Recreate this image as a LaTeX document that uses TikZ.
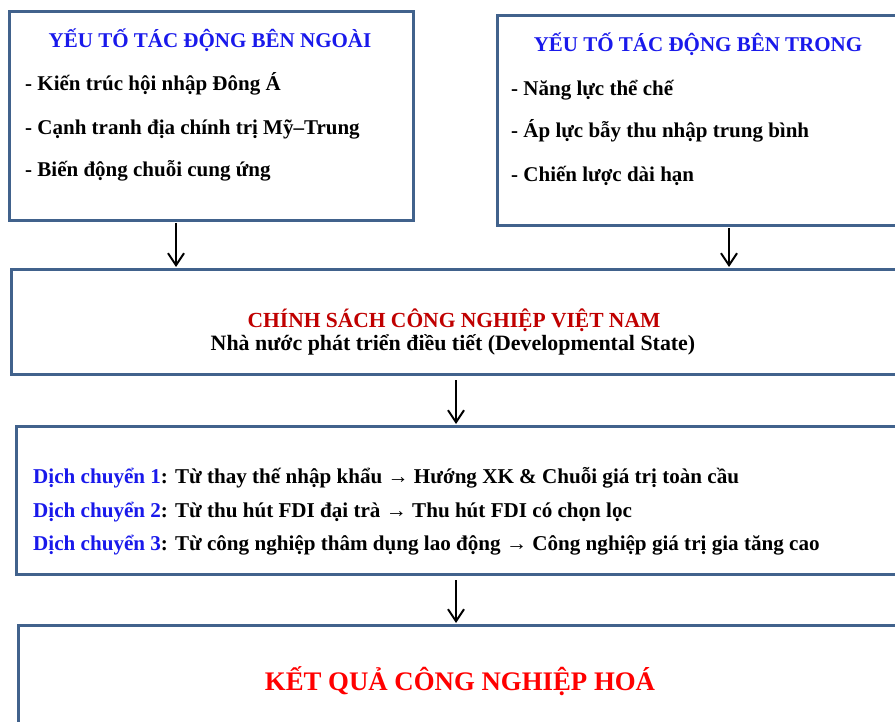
\documentclass[tikz,border=0pt]{standalone}
\usepackage{fontspec}
\setmainfont{Liberation Serif}
\usetikzlibrary{arrows.meta}
\definecolor{boxblue}{RGB}{65,98,140}
\definecolor{headblue}{RGB}{25,25,235}
\definecolor{darkred}{RGB}{192,0,0}
\tikzset{
  frame/.style={draw=boxblue, line width=3pt, fill=white, anchor=north west, inner sep=0pt},
  flow/.style={-{Straight Barb[length=12pt,width=16pt]}, line width=2pt},
  head/.style={anchor=base, inner sep=0pt, text=headblue, font=\bfseries\fontsize{21}{25}\selectfont},
  item/.style={anchor=base west, inner sep=0pt, font=\bfseries\fontsize{21}{25}\selectfont},
  shiftline/.style={anchor=base west, inner sep=0pt, font=\bfseries\fontsize{21.1}{25}\selectfont},
}
\begin{document}
\begin{tikzpicture}[x=1pt,y=-1pt]
\clip (0,0) rectangle (895,722);
\fill[white] (0,0) rectangle (895,722);

% khung
\node[frame, minimum width=404pt, minimum height=209pt] (outer) at (8,10) {};
\node[frame, minimum width=420pt, minimum height=210pt] (inner) at (496,14) {};
\node[frame, minimum width=900pt, minimum height=105pt] (policy) at (10,268) {};
\node[frame, minimum width=900pt, minimum height=148pt] (shifts) at (15,425) {};
\node[frame, minimum width=900pt, minimum height=120pt] (result) at (17,624) {};

% yeu to ben ngoai
\node[head] (outerhead) at (210,48) {YẾU TỐ TÁC ĐỘNG BÊN NGOÀI};
\node[item] (o1) at (25,91) {- Kiến trúc hội nhập Đông Á};
\node[item] (o2) at (25,135) {- Cạnh tranh địa chính trị Mỹ–Trung};
\node[item] (o3) at (25,177) {- Biến động chuỗi cung ứng};

% yeu to ben trong
\node[head] (innerhead) at (698,52) {YẾU TỐ TÁC ĐỘNG BÊN TRONG};
\node[item] (i1) at (511,96) {- Năng lực thể chế};
\node[item] (i2) at (511,138) {- Áp lực bẫy thu nhập trung bình};
\node[item] (i3) at (511,182) {- Chiến lược dài hạn};

% chinh sach
\node[anchor=base, inner sep=0pt, text=darkred, font=\bfseries\fontsize{21.5}{25}\selectfont] (policyhead) at (454,327) {CHÍNH SÁCH CÔNG NGHIỆP VIỆT NAM};
\node[anchor=base, inner sep=0pt, font=\bfseries\fontsize{21.9}{25}\selectfont] (policysub) at (453,351) {Nhà nước phát triển điều tiết (Developmental State)};

% dich chuyen
\node[shiftline] (s1) at (33,483) {\textcolor{headblue}{Dịch chuyển 1}: Từ thay thế nhập khẩu → Hướng XK \& Chuỗi giá trị toàn cầu};
\node[shiftline] (s2) at (33,517) {\textcolor{headblue}{Dịch chuyển 2}: Từ thu hút FDI đại trà → Thu hút FDI có chọn lọc};
\node[shiftline] (s3) at (33,550) {\textcolor{headblue}{Dịch chuyển 3}: Từ công nghiệp thâm dụng lao động → Công nghiệp giá trị gia tăng cao};

% ket qua
\node[anchor=base, inner sep=0pt, text=red, font=\bfseries\fontsize{26.8}{32}\selectfont] (resulthead) at (460,690) {KẾT QUẢ CÔNG NGHIỆP HOÁ};

% mui ten
\coordinate (c1) at (176,0);
\coordinate (c2) at (729,0);
\coordinate (c3) at (456,0);
\draw[flow] ([yshift=-1pt]outer.south -| c1) -- ([yshift=1pt]policy.north -| c1);
\draw[flow] ([yshift=-1pt]inner.south -| c2) -- ([yshift=1pt]policy.north -| c2);
\draw[flow] ([yshift=-4pt]policy.south -| c3) -- ([yshift=1pt]shifts.north -| c3);
\draw[flow] ([yshift=-4pt]shifts.south -| c3) -- ([yshift=1pt]result.north -| c3);
\end{tikzpicture}
\end{document}
